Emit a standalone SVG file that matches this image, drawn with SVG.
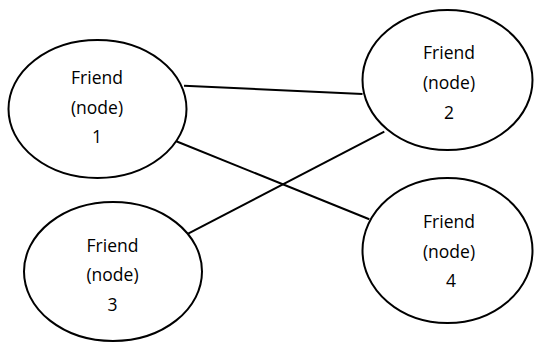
<svg xmlns="http://www.w3.org/2000/svg" width="534" height="342" viewBox="0 0 534 342">
<style>
.node ellipse{fill:#fff;stroke:#000;stroke-width:2}
.node text{font-family:"Open Sans","Liberation Sans",sans-serif;font-size:17.5px;fill:#000;text-anchor:middle}
.edge{stroke:#000;stroke-width:2;fill:none}
</style>
<rect width="534" height="342" fill="#fff"/>
<g id="connectors">
<line class="edge" x1="184" y1="85.7" x2="362.5" y2="94"/>
<line class="edge" x1="175" y1="140.7" x2="369.3" y2="219.3"/>
<line class="edge" x1="186.7" y1="234.3" x2="384.3" y2="131.7"/>
</g>
<g id="node1" class="node">
<ellipse cx="97.5" cy="109" rx="89" ry="69"/>
<text x="97" y="84.3">Friend</text>
<text x="97" y="113.8">(node)</text>
<text x="97" y="143.3">1</text>
</g>
<g id="node2" class="node">
<ellipse cx="447.5" cy="80" rx="85" ry="70"/>
<text x="449" y="59.3">Friend</text>
<text x="449" y="89.2">(node)</text>
<text x="449" y="119">2</text>
</g>
<g id="node3" class="node">
<ellipse cx="113" cy="271.5" rx="89" ry="69.5"/>
<text x="112.5" y="251.7">Friend</text>
<text x="112.5" y="281.2">(node)</text>
<text x="112.5" y="310.7">3</text>
</g>
<g id="node4" class="node">
<ellipse cx="447.5" cy="250.5" rx="85" ry="72.5"/>
<text x="449" y="228.3">Friend</text>
<text x="449" y="257.5">(node)</text>
<text x="451" y="286.7">4</text>
</g>
</svg>
